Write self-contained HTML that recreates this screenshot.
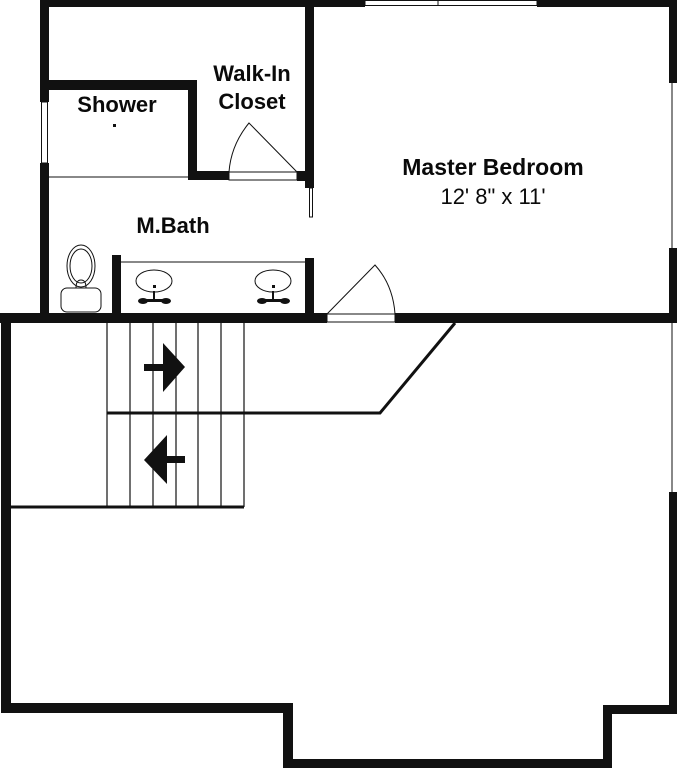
<!DOCTYPE html>
<html><head><style>html,body{margin:0;padding:0;background:#fff}svg{display:block}</style></head><body>
<svg width="677" height="768" viewBox="0 0 677 768" xmlns="http://www.w3.org/2000/svg">
<g fill="#111">
<rect x="40" y="0" width="325" height="7"/>
<rect x="537" y="0" width="140" height="7"/>
<rect x="40" y="0" width="9" height="102"/>
<rect x="40" y="163" width="9" height="160"/>
<rect x="40" y="80" width="157" height="10"/>
<rect x="188" y="80" width="9" height="100"/>
<rect x="188" y="171" width="41" height="9"/>
<rect x="297" y="171" width="17" height="10"/>
<rect x="305" y="0" width="9" height="188"/>
<rect x="112" y="255" width="9" height="65"/>
<rect x="305" y="258" width="9" height="62"/>
<rect x="0" y="313" width="327" height="10"/>
<rect x="395" y="313" width="282" height="10"/>
<rect x="669" y="0" width="8" height="83"/>
<rect x="669" y="248" width="8" height="75"/>
<rect x="669" y="492" width="8" height="222"/>
<rect x="1" y="313" width="10" height="400"/>
<rect x="1" y="703" width="292" height="10"/>
<rect x="283" y="703" width="10" height="65"/>
<rect x="283" y="759" width="329" height="9"/>
<rect x="603" y="705" width="9" height="63"/>
<rect x="603" y="705" width="74" height="9"/>
</g>
<g fill="none" stroke="#111" stroke-width="1">
<rect x="365" y="0.5" width="172" height="5"/>
<line x1="438" y1="0" x2="438" y2="5"/>
<rect x="41.5" y="102" width="6" height="61"/>
<line x1="672" y1="83" x2="672" y2="248"/>
<line x1="672" y1="323" x2="672" y2="492"/>
<line x1="49" y1="177" x2="188" y2="177"/>
<rect x="229" y="172" width="68" height="8"/>
<path d="M297 172 L249 123 Q231 145 229 172"/>
<rect x="309.5" y="188" width="3" height="29"/>
<rect x="327" y="314" width="68" height="8"/>
<path d="M327 314 L375 265 Q393 285 395 314"/>
<line x1="121" y1="262" x2="305" y2="262"/>
<ellipse cx="81" cy="266" rx="14" ry="21"/>
<ellipse cx="81" cy="266" rx="11" ry="17"/>
<path d="M76 288 Q76 280 81 280 Q86 280 86 288"/>
<rect x="61" y="288" width="40" height="24" rx="6"/>
<ellipse cx="154" cy="281" rx="18" ry="11"/>
<ellipse cx="273" cy="281" rx="18" ry="11"/>
<g stroke-width="1.2">
<line x1="107" y1="323" x2="107" y2="507"/>
<line x1="130" y1="323" x2="130" y2="507"/>
<line x1="153" y1="323" x2="153" y2="507"/>
<line x1="176" y1="323" x2="176" y2="507"/>
<line x1="198" y1="323" x2="198" y2="507"/>
<line x1="221" y1="323" x2="221" y2="507"/>
<line x1="244" y1="323" x2="244" y2="507"/>
</g>
</g>
<g stroke="#111" stroke-width="3" fill="none">
<path d="M107 413 L380 413 L455 323"/>
<line x1="11" y1="507" x2="244" y2="507"/>
</g>
<g fill="#111">
<rect x="153" y="285" width="3" height="3"/>
<rect x="153" y="291" width="2" height="9"/>
<ellipse cx="143" cy="301" rx="5" ry="3"/><ellipse cx="166" cy="301" rx="5" ry="3"/><rect x="143" y="299" width="23" height="3"/>
<rect x="272" y="285" width="3" height="3"/>
<rect x="272" y="291" width="2" height="9"/>
<ellipse cx="262" cy="301" rx="5" ry="3"/><ellipse cx="285" cy="301" rx="5" ry="3"/><rect x="262" y="299" width="23" height="3"/>
<rect x="113" y="124" width="3" height="3"/>
<rect x="144" y="364" width="22" height="7"/>
<polygon points="163,343 185,367 163,392"/>
<rect x="165" y="456" width="20" height="7"/>
<polygon points="167,435 144,460 167,484"/>
</g>
<g font-family="Liberation Sans, sans-serif" font-weight="bold" font-size="22" fill="#0a0a0a" text-anchor="middle">
<text x="117" y="112">Shower</text>
<text x="252" y="81">Walk-In</text>
<text x="252" y="109">Closet</text>
<text x="173" y="233">M.Bath</text>
<text x="493" y="175" font-size="23">Master Bedroom</text>
<text x="493" y="204" font-weight="normal">12' 8" x 11'</text>
</g>
</svg>
</body></html>
